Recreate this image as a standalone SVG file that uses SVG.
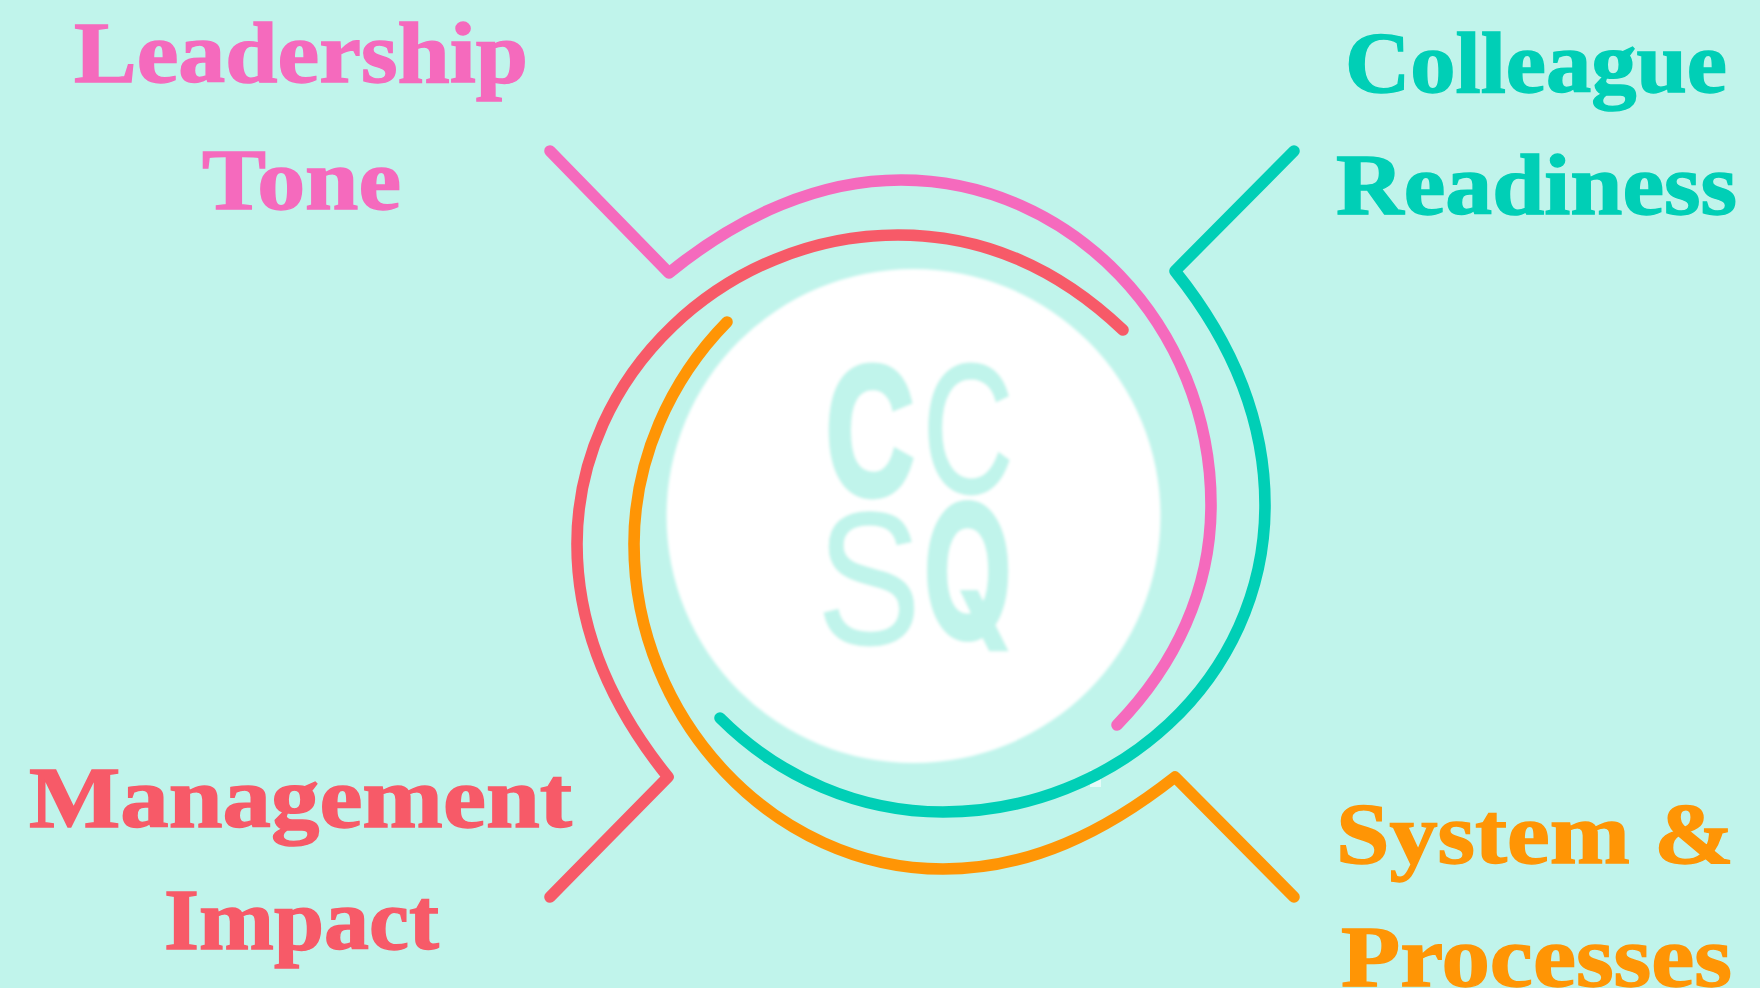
<svg xmlns="http://www.w3.org/2000/svg" width="1760" height="988" viewBox="0 0 1760 988">
<defs>
<style>
.lb{font-family:"Liberation Serif",serif;font-weight:700;font-size:87px;stroke-width:1.4px;paint-order:stroke}
.cv{fill:none;stroke-width:11.6;stroke-linecap:round;stroke-linejoin:round}
.lg{font-family:"Liberation Sans",sans-serif;fill:#c0f4eb;stroke:#c0f4eb;font-size:184px}
.pink{fill:#f56abd;stroke:#f56abd}.teal{fill:#00cfb6;stroke:#00cfb6}.red{fill:#f75a68;stroke:#f75a68}.orange{fill:#ff9505;stroke:#ff9505}
</style>
<filter id="soft" x="-5%" y="-5%" width="110%" height="110%"><feGaussianBlur stdDeviation="1.8"/></filter>
</defs>
<rect width="1760" height="988" fill="#c0f4eb"/>
<rect x="1090" y="770" width="11" height="17" fill="#e6fbf8"/>
<g id="logo" filter="url(#soft)">
<circle cx="913.5" cy="516" r="247" fill="#fff"/>
<text class="lg" font-weight="700" stroke-width="7" x="826" y="494" textLength="88" lengthAdjust="spacingAndGlyphs">C</text>
<text class="lg" stroke-width="3" x="923" y="492" textLength="90" lengthAdjust="spacingAndGlyphs">C</text>
<text class="lg" stroke-width="1" x="817" y="644" textLength="104" lengthAdjust="spacingAndGlyphs" style="font-size:190px">S</text>
<text class="lg" font-weight="700" stroke-width="4" x="923" y="638" textLength="90" lengthAdjust="spacingAndGlyphs" style="font-family:Inter,'Liberation Sans',sans-serif;font-size:184px">Q</text>
</g>
<g id="connectors">
<path class="cv" stroke="#f56abd" d="M550 151L669 273C740 215 820 180 901 180C1070 180 1211 325 1211 505C1211 590 1175 665 1117 725"/>
<path class="cv" stroke="#00cfb6" d="M1294 151L1175 271C1232 342 1265 420 1265 505C1265 680 1115 812 943 812C860 812 780 778 720 718"/>
<path class="cv" stroke="#f75a68" d="M550 897L668 777C610 705 577 628 577 544C577 375 725 235 898 235C985 235 1060 270 1123 330"/>
<path class="cv" stroke="#ff9505" d="M727 322C670 380 634 460 634 544C634 720 775 869 943 869C1030 869 1105 832 1175 777L1294 897"/>
</g>
<g id="leadership-tone">
<text class="lb pink" x="74" y="82" textLength="454" lengthAdjust="spacingAndGlyphs">Leadership</text>
<text class="lb pink" x="202" y="209" textLength="199" lengthAdjust="spacingAndGlyphs">Tone</text>
</g>
<g id="colleague-readiness">
<text class="lb teal" x="1345" y="92" textLength="382" lengthAdjust="spacingAndGlyphs">Colleague</text>
<text class="lb teal" x="1336" y="214" textLength="401" lengthAdjust="spacingAndGlyphs">Readiness</text>
</g>
<g id="management-impact">
<text class="lb red" x="29" y="827" textLength="543" lengthAdjust="spacingAndGlyphs">Management</text>
<text class="lb red" x="164" y="949" textLength="275" lengthAdjust="spacingAndGlyphs">Impact</text>
</g>
<g id="system-processes">
<text class="lb orange" x="1336" y="863" textLength="398" lengthAdjust="spacingAndGlyphs">System &amp;</text>
<text class="lb orange" x="1341" y="986" textLength="391" lengthAdjust="spacingAndGlyphs">Processes</text>
</g>
</svg>
